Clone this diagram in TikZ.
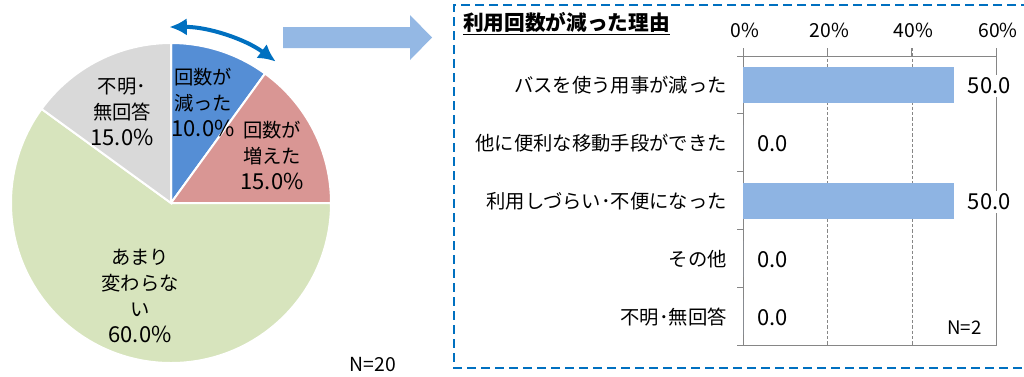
\documentclass[tikz,border=0pt]{standalone}
\usepackage{fontspec}
\setmainfont{Noto Sans CJK JP}
\usetikzlibrary{arrows.meta}
\definecolor{fewerblue}{HTML}{558ED5}
\definecolor{morered}{HTML}{D99694}
\definecolor{samegreen}{HTML}{D7E4BD}
\definecolor{unkgray}{HTML}{D9D9D9}
\definecolor{barblue}{HTML}{8EB4E3}
\definecolor{frameblue}{HTML}{0070C0}
\definecolor{axisgray}{HTML}{868686}
\newcommand\pctfont{\fontsize{16.5}{19.5}\selectfont}
\begin{document}
\begin{tikzpicture}[x=0.75pt,y=0.75pt,
  lbl/.style={font=\fontsize{14.5}{19.5}\selectfont,align=center,inner sep=1pt},
  numlbl/.style={font=\pctfont,inner sep=2pt},
  ticklbl/.style={font=\fontsize{14.5}{16}\selectfont,inner sep=1pt},
  axisline/.style={draw=axisgray,line width=0.75pt},
  gridline/.style={draw=axisgray,line width=0.6pt,dash pattern=on 2.5pt off 1.5pt}]
\useasboundingbox (0,0) rectangle (1024,-376);

% pie, clockwise from the top
\coordinate (c) at (171,-203);
\foreach \a/\b/\col in {90/54/fewerblue,54/0/morered,0/-216/samegreen,-216/-270/unkgray}
  \filldraw[fill=\col,draw=white,line width=1.5pt] (c) -- ++(\a:160) arc (\a:\b:160) -- cycle;

\node[lbl] (fewer) at (203,-102) {回数が\\減った\\\pctfont 10.0\%};
\node[lbl] (more) at (272,-155) {回数が\\増えた\\\pctfont 15.0\%};
\node[lbl] (unknown) at (122,-112) {不明･\\無回答\\\pctfont 15.0\%};
\node[lbl] (same) at (140,-296) {あまり\\変わらな\\い\\\pctfont 60.0\%};
\node[ticklbl] (n20) at (373,-365) {N=20};

\draw[frameblue,line width=3pt,{Latex[length=13pt,width=13pt]}-{Latex[length=13pt,width=13pt]}]
  (c) ++(90.5:176) arc (90.5:53.5:176);

\fill[barblue!95!white] (283,-27) -- (410,-27) -- (410,-15) -- (432,-37.5)
  -- (410,-60) -- (410,-48) -- (283,-48) -- cycle;

% reasons for fewer trips
\draw[frameblue,line width=2pt,dash pattern=on 7pt off 3.5pt]
  (1030,-5) -- (454,-5) -- (454,-368) -- (1030,-368);
\node[anchor=west,inner sep=0pt,font=\fontsize{15.5}{18}\selectfont\bfseries] (title) at (463,-24)
  {\underline{利用回数が減った理由}};

\foreach \p in {20,40}
  \draw[gridline] (743.3+4.215*\p,-48) -- (743.3+4.215*\p,-345.7);
\foreach \p in {0,20,40,60}{
  \draw[axisline] (743.3+4.215*\p,-48) -- (743.3+4.215*\p,-56);
  \node[ticklbl] (tick\p) at (745+4.215*\p,-30) {\p\%};
}
\draw[axisline] (737,-56) -- (996.2,-56);
\draw[axisline] (996.2,-56) -- (996.2,-345.7);
\draw[axisline] (743.3,-56) -- (743.3,-345.7);
\foreach \k in {0,...,5}
  \draw[axisline] (737,-56-57.94*\k) -- (743.3,-56-57.94*\k);
\draw[axisline] (737,-345.7) -- (996.2,-345.7);

\foreach \i/\txt/\v in {1/バスを使う用事が減った/50,2/他に便利な移動手段ができた/0,
    3/利用しづらい･不便になった/50,4/その他/0,5/不明･無回答/0}{
  \fill[barblue] (743.3,-27-57.94*\i-18) rectangle (743.3+4.215*\v,-27-57.94*\i+18);
  \node[lbl,anchor=east] (cat\i) at (728.5,-27-57.94*\i) {\txt};
  \node[numlbl,anchor=west,fill=white] (val\i) at (754.3+4.215*\v,-28-57.94*\i) {\v.0};
}
\node[ticklbl,font=\fontsize{14}{16}\selectfont] (n2) at (964.5,-328) {N=2};
\end{tikzpicture}
\end{document}
